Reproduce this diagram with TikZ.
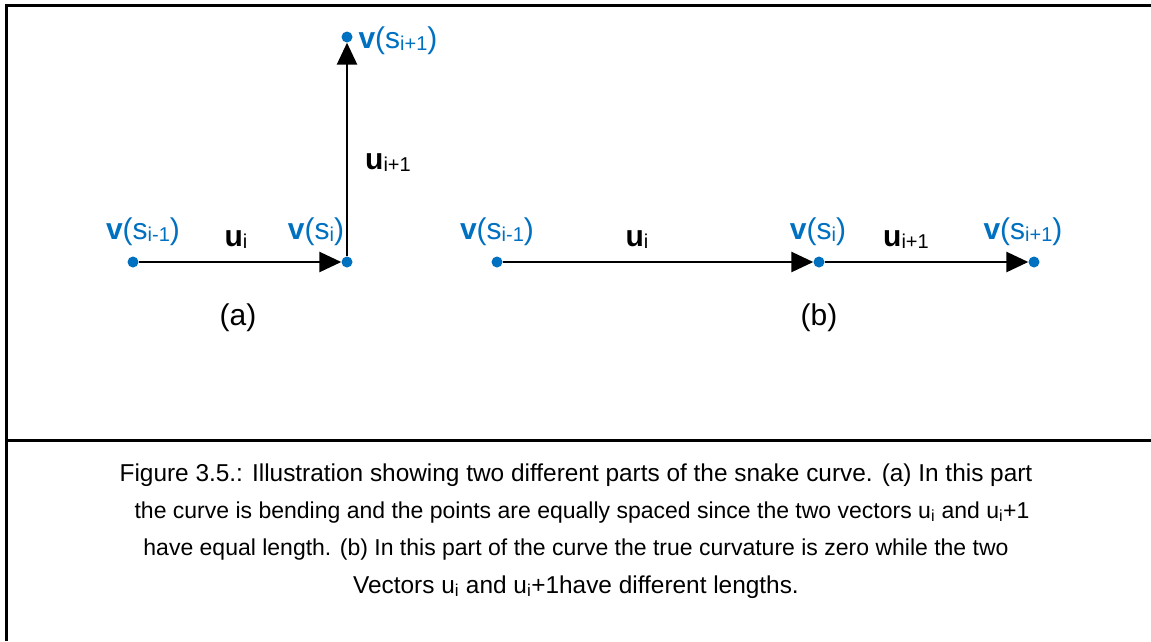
\documentclass[tikz,border=0pt]{standalone}
\usepackage{fontspec}
\setmainfont{Liberation Sans}
\usetikzlibrary{arrows.meta}
\definecolor{vblue}{RGB}{0,112,192}
\newcommand{\sbs}[1]{\raisebox{-2.5pt}{\fontsize{20}{22}\selectfont #1}}
\begin{document}
\begin{tikzpicture}[x=1pt,y=-1pt,
  dot/.style={circle,fill=vblue,inner sep=0pt,minimum size=11pt},
  vec/.style={line width=2.7pt,-{Triangle[length=22pt,width=20pt]}},
  lbl/.style={text=vblue,font=\fontsize{30}{32}\selectfont,inner sep=0pt,anchor=base},
  ulbl/.style={text=black,font=\fontsize{30}{32}\selectfont,inner sep=0pt,anchor=base},
  sub/.style={font=\fontsize{30}{32}\selectfont,inner sep=0pt},
  capline/.style={font=\fontsize{24.4}{30}\selectfont,inner sep=0pt,anchor=base},
  frame/.style={line width=3pt}]
\useasboundingbox (0,0) rectangle (1151,641);
\draw[frame] (6,641) -- (6,5) -- (1151,5);
\draw[frame] (6,440) -- (1151,440);
% (a)
\node[dot] (a1) at (133,262) {};
\node[dot] (a2) at (347,262) {};
\node[dot] (a3) at (347,37) {};
\draw[vec] (a1) -- (a2);
\draw[vec] (a2) -- (a3);
\node[lbl] (la1) at (143,239) {\textbf{v}(s\sbs{i-1})};
\node[ulbl] (lau1) at (236,246) {\textbf{u}\sbs{i}};
\node[lbl] (la2) at (316,239) {\textbf{v}(s\sbs{i})};
\node[ulbl] (lau2) at (388,169) {\textbf{u}\sbs{i+1}};
\node[lbl] (la3) at (398,48) {\textbf{v}(s\sbs{i+1})};
\node[sub] (ta) at (238,318) {(a)};
% (b)
\node[dot] (b1) at (497,262) {};
\node[dot] (b2) at (819,262) {};
\node[dot] (b3) at (1034,262) {};
\draw[vec] (b1) -- (b2);
\draw[vec] (b2) -- (b3);
\node[lbl] (lb1) at (497,239) {\textbf{v}(s\sbs{i-1})};
\node[ulbl] (lbu1) at (637,246) {\textbf{u}\sbs{i}};
\node[lbl] (lb2) at (818,239) {\textbf{v}(s\sbs{i})};
\node[ulbl] (lbu2) at (906,246) {\textbf{u}\sbs{i+1}};
\node[lbl] (lb3) at (1023,239) {\textbf{v}(s\sbs{i+1})};
\node[sub] (tb) at (819,318) {(b)};
% caption
\node[capline] (cap1) at (576,481) {Figure 3.5.: Illustration showing two different parts of the snake curve. (a) In this part};
\node[capline,font=\fontsize{23}{30}\selectfont] (cap2) at (582,518) {the curve is bending and the points are equally spaced since the two vectors u\textsubscript{i} and u\textsubscript{i}+1};
\node[capline,font=\fontsize{23}{30}\selectfont] (cap3) at (576,555) {have equal length. (b) In this part of the curve the true curvature is zero while the two};
\node[capline] (cap4) at (576,593) {Vectors u\textsubscript{i} and u\textsubscript{i}+1have different lengths.};
\end{tikzpicture}
\end{document}
